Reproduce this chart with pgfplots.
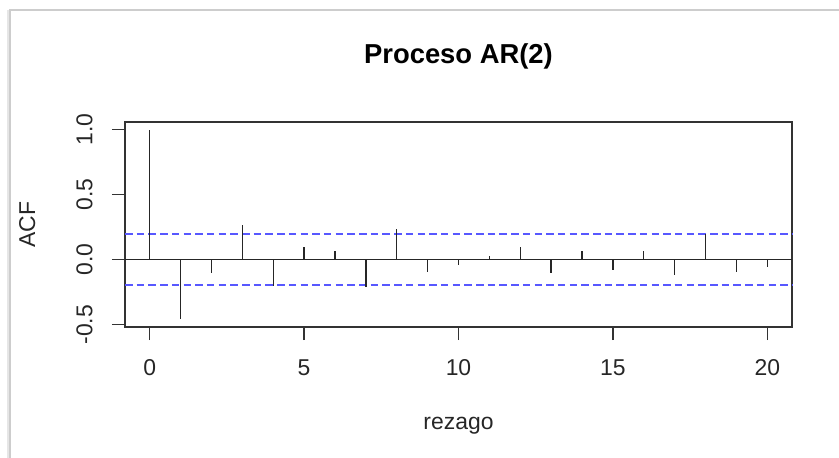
\documentclass[border=0pt]{standalone}
\usepackage{pgfplots}
\pgfplotsset{compat=1.18}
\usepackage{fontspec}
\setmainfont{Liberation Sans}

\definecolor{cibl}{RGB}{88,88,255}
\definecolor{framegray}{RGB}{205,205,205}

\begin{document}
\begin{tikzpicture}
  % page frame
  \path[use as bounding box] (0bp,0bp) rectangle (839bp,458bp);
  \draw[framegray!50, line width=4bp] (9bp,0bp) -- (9bp,448bp);
  \draw[framegray, line width=1.2bp] (10bp,0bp) -- (10bp,448bp) -- (839bp,448bp);

  \begin{axis}[
    at={(125bp,131bp)}, anchor=south west,
    scale only axis, width=667bp, height=205bp,
    xmin=-0.8, xmax=20.8, ymin=-0.518, ymax=1.058,
    axis line style={black!80, line width=1.4bp},
    xtick={0,5,10,15,20}, ytick={-0.5,0,0.5,1},
    xtick pos=bottom, ytick pos=left,
    tick align=outside, major tick length=13bp,
    tick style={black!80, line width=1.3bp},
    xticklabel shift=16bp, yticklabel shift=16bp,
    /pgf/number format/assume math mode=true,
    yticklabel style={/pgf/number format/.cd, fixed, fixed zerofill, precision=1, /tikz/.cd,
      rotate=90, anchor=south, font=\fontsize{23}{27}\selectfont, text=black!85},
    xticklabel style={font=\fontsize{23}{27}\selectfont, text=black!85},
    title={Proceso AR(2)},
    title style={at={(axis description cs:0.5,1.2585)}, anchor=base,
      font=\fontsize{27.5}{32}\selectfont\bfseries},
    xlabel={rezago},
    xlabel style={at={(axis description cs:0.5,-0.502)}, anchor=base,
      font=\fontsize{23}{27}\selectfont, text=black!85},
    ylabel={ACF},
    ylabel style={at={(axis description cs:-0.1349,0.5)}, anchor=base,
      font=\fontsize{23}{27}\selectfont, text=black!85},
    clip=false,
  ]
    % confidence bounds
    \addplot[cibl, line width=1.5bp, dash pattern=on 7.5bp off 4.2bp] coordinates {(-0.8,0.196) (20.8,0.196)};
    \addplot[cibl, line width=1.5bp, dash pattern=on 7.5bp off 4.2bp] coordinates {(-0.8,-0.196) (20.8,-0.196)};
    % zero line
    \addplot[black!85, line width=1.4bp] coordinates {(-0.8,0) (20.8,0)};
    % autocorrelations by lag
    \addplot[ycomb, black!85, line width=1.4bp, mark=none] coordinates {
      (0,1.000) (1,-0.460) (2,-0.103) (3,0.264) (4,-0.200)
      (5,0.095) (6,0.069) (7,-0.213) (8,0.236) (9,-0.095)
      (10,-0.038) (11,0.026) (12,0.095) (13,-0.105) (14,0.069)
      (15,-0.082) (16,0.069) (17,-0.115) (18,0.197) (19,-0.095)
      (20,-0.059)
    };
  \end{axis}
\end{tikzpicture}
\end{document}
